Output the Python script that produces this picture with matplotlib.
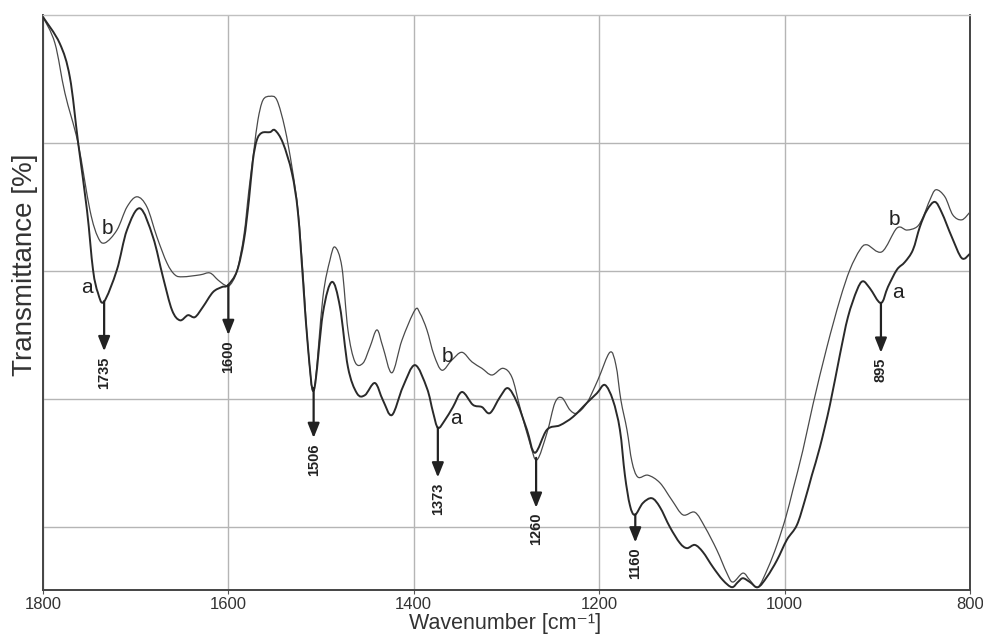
import numpy as np
import matplotlib
matplotlib.use("Agg")
import matplotlib.pyplot as plt
from matplotlib.path import Path
from matplotlib.patches import PathPatch

plt.rcParams['font.family'] = ['Liberation Sans', 'DejaVu Sans']

# spectrum a (darker line)
wn_a = [1800, 1782, 1771, 1762, 1752.5, 1746, 1740.7, 1734.2, 1720.2, 1709.4,
        1695.4, 1681.3, 1670.6, 1660.8, 1652.2, 1643.6, 1636, 1627.4, 1616.6, 1606.9,
        1600.4, 1590.7, 1583.2, 1577.8, 1573.5, 1569.2, 1563.8, 1555.1, 1549.7, 1541.1,
        1531.4, 1524.9, 1519.5, 1514.1, 1507.7, 1498, 1488.3, 1479.6, 1471, 1461.3,
        1452.7, 1441.9, 1433.2, 1423.5, 1411.7, 1398.7, 1385.8, 1379.3, 1373.9, 1366.4,
        1357.7, 1348, 1336.2, 1326.5, 1317.8, 1307, 1298.4, 1288.7, 1277.9, 1269.3,
        1256.3, 1242.3, 1228.3, 1213.2, 1202.4, 1193.8, 1185.1, 1177.6, 1172.2, 1166.8,
        1161.4, 1152.8, 1143.1, 1134.4, 1123.7, 1112.9, 1105.3, 1096.7, 1088.1, 1077.3,
        1066.5, 1056.8, 1050.3, 1044.9, 1037.4, 1028.7, 1019, 1008.2, 997.5, 986.7,
        978, 970.5, 961.8, 951, 940.3, 931.6, 921.9, 915.5, 907.9, 896.1,
        888.5, 878.8, 870.2, 861.5, 854, 846.4, 837.8, 830.3, 819.5, 808.7, 800]
t_a = [99.7, 95.6, 90.3, 80.0, 69.5, 60.2, 56.6, 55.2, 60.2, 66.4,
       69.8, 65.3, 59.1, 53.9, 52.3, 53.1, 52.8, 54.4, 56.7, 57.5,
       57.8, 60.0, 64.8, 71.1, 77.3, 80.5, 81.6, 81.7, 82.0, 80.0,
       75.3, 69.1, 58.6, 48.1, 41.4, 53.4, 58.3, 54.4, 45.0, 40.9,
       40.6, 42.5, 39.8, 37.5, 41.9, 45.3, 41.7, 38.0, 35.5, 36.7,
       38.75, 41.1, 39.1, 38.75, 37.8, 40.3, 41.7, 39.5, 35.2, 31.6,
       35.2, 35.9, 37.2, 39.4, 40.9, 42.2, 39.8, 35.2, 28.1, 23.4,
       21.9, 23.75, 24.5, 23.1, 20.0, 17.5, 16.7, 17.2, 16.1, 13.75,
       11.7, 10.6, 11.4, 12.0, 11.4, 10.6, 12.2, 14.8, 18.0, 20.3,
       24.2, 28.1, 32.5, 39.1, 46.9, 52.8, 57.0, 58.4, 57.3, 55.0,
       57.5, 60.2, 61.4, 63.3, 66.9, 69.5, 70.8, 69.1, 65.3, 62.0, 62.7]

# spectrum b (lighter line)
wn_b = [1800, 1787.1, 1776.3, 1762.2, 1749.3, 1740.7, 1733.1, 1720.2, 1709.4, 1698.6,
        1687.8, 1677, 1666.2, 1657.6, 1649, 1630.6, 1619.9, 1611.2, 1603.7, 1598.3,
        1590.7, 1583.2, 1577.8, 1572.4, 1568.1, 1562.7, 1555.1, 1547.6, 1539, 1531.4,
        1524.9, 1519.5, 1514.1, 1507.7, 1498, 1490.4, 1485, 1477.5, 1471, 1463.4,
        1454.8, 1447.3, 1439.7, 1433.2, 1423.5, 1412.7, 1398.7, 1393.3, 1385.8, 1378.2,
        1369.6, 1358.8, 1348, 1337.2, 1326.5, 1315.7, 1303.8, 1294.1, 1285.5, 1274.7,
        1267.1, 1256.3, 1247.7, 1240.2, 1231.5, 1224, 1213.2, 1201.3, 1188.4, 1181.9,
        1176.5, 1170, 1164.6, 1158.2, 1147.4, 1134.4, 1121.5, 1109.6, 1096.7, 1085.9,
        1073, 1062.2, 1055.7, 1044.9, 1037.4, 1028.7, 1017.9, 1008.2, 998.5, 991,
        980.2, 969.4, 954.3, 940.3, 929.5, 918.7, 911.2, 895, 878.8, 868,
        857.2, 850.7, 843.2, 836.7, 827, 818.4, 808.7, 800]
t_b = [99.7, 95.6, 87.8, 80.0, 69.5, 65.3, 64.4, 66.4, 70.0, 71.6,
       70.0, 65.3, 61.25, 59.4, 59.1, 59.4, 59.7, 58.6, 57.8, 57.8,
       60.0, 65.6, 72.7, 78.9, 83.6, 86.7, 87.3, 86.7, 82.3, 76.25,
       69.5, 59.7, 48.1, 41.4, 55.9, 61.7, 63.75, 60.6, 50.8, 45.8,
       45.6, 48.1, 50.8, 48.1, 44.1, 49.2, 53.9, 53.4, 50.8, 46.9,
       44.5, 46.1, 47.3, 45.8, 44.8, 43.75, 44.8, 43.4, 38.75, 33.1,
       30.5, 34.7, 39.4, 40.2, 38.3, 37.8, 39.4, 43.0, 47.3, 45.3,
       39.8, 35.2, 30.2, 27.8, 28.1, 26.9, 24.2, 21.9, 22.3, 20.0,
       16.4, 12.8, 11.4, 12.8, 11.7, 10.6, 13.6, 17.2, 21.6, 25.8,
       32.0, 39.1, 48.1, 55.5, 60.2, 63.3, 64.1, 63.0, 66.7, 66.4,
       66.9, 68.4, 71.1, 72.7, 71.6, 68.75, 68.0, 69.2]

# marked bands: where the arrow sits and the label printed below it
band_pos = [1734, 1600, 1508, 1374, 1268, 1161, 896]
band_labels = ['1735', '1600', '1506', '1373', '1260', '1160', '895']


def smooth_path(x, y):
    # draw the readings as one smooth bezier curve (Catmull-Rom tangents)
    p = np.column_stack([x, y]).astype(float)
    verts = [p[0]]
    codes = [Path.MOVETO]
    for i in range(len(p) - 1):
        p0 = p[i - 1] if i > 0 else p[i]
        p3 = p[i + 2] if i + 2 < len(p) else p[i + 1]
        c1 = p[i] + (p[i + 1] - p0) / 6.0
        c2 = p[i + 1] - (p3 - p[i]) / 6.0
        verts += [c1, c2, p[i + 1]]
        codes += [Path.CURVE4] * 3
    return Path(verts, codes)


fig = plt.figure(figsize=(9.83, 6.34), dpi=100)
ax = fig.add_axes([0.0437, 0.0694, 0.9430, 0.9069])

ax.add_patch(PathPatch(smooth_path(wn_b, t_b), fill=False, edgecolor='#4a4a4a',
                       lw=0.9, joinstyle='round', zorder=3))
ax.add_patch(PathPatch(smooth_path(wn_a, t_a), fill=False, edgecolor='#2a2a2a',
                       lw=1.4, joinstyle='round', zorder=4))

ax.set_xlim(1800, 800)
ax.set_ylim(10.16, 100)
ax.set_xticks([1800, 1600, 1400, 1200, 1000, 800])
ax.set_yticks([20, 40, 60, 80])
ax.set_yticklabels([])
ax.tick_params(axis='y', length=0)
ax.tick_params(axis='x', length=3, width=0.8, color='#555555', labelsize=12,
               labelcolor='#333333', pad=2)
ax.grid(True, color='#b5b5b5', lw=1.0)
ax.set_axisbelow(True)

for side in ['left', 'bottom', 'right']:
    ax.spines[side].set_color('#444444')
    ax.spines[side].set_linewidth(1.4)
ax.spines['top'].set_color('#c0c0c0')
ax.spines['top'].set_linewidth(1.0)

# arrows under the absorption bands
xa = np.array(wn_a[::-1])
ya = np.array(t_a[::-1])
xb = np.array(wn_b[::-1])
yb = np.array(t_b[::-1])
for pos, lab in zip(band_pos, band_labels):
    y0 = min(np.interp(pos, xa, ya), np.interp(pos, xb, yb))
    length = 4.4 if lab == '1160' else 7.8
    ax.annotate('', xy=(pos, y0 - length), xytext=(pos, y0),
                arrowprops=dict(arrowstyle='-|>,head_length=0.55,head_width=0.22',
                                color='#222222', lw=1.6, mutation_scale=16,
                                shrinkA=0, shrinkB=0), zorder=5)
    ax.text(pos, y0 - length - 0.8, lab, rotation=90, ha='center', va='top',
            fontsize=10.5, fontweight='bold', color='#222222', zorder=5)

# curve letters
for x, y, s in [(1730, 66.7, 'b'), (1752.5, 57.5, 'a'), (1364, 46.6, 'b'),
                (1354.5, 37.0, 'a'), (881, 68.0, 'b'), (877.7, 56.7, 'a')]:
    ax.text(x, y, s, fontsize=15, ha='center', va='center', color='#222222', zorder=6)

fig.text(0.0254, 0.582, 'Transmittance [%]', rotation=90, ha='center', va='center',
         fontsize=20, color='#333333')
fig.text(0.514, 0.0075, 'Wavenumber [cm\u207b\u00b9]', ha='center', va='baseline',
         fontsize=15.5, color='#333333')

fig.savefig('out.png', dpi=100)
